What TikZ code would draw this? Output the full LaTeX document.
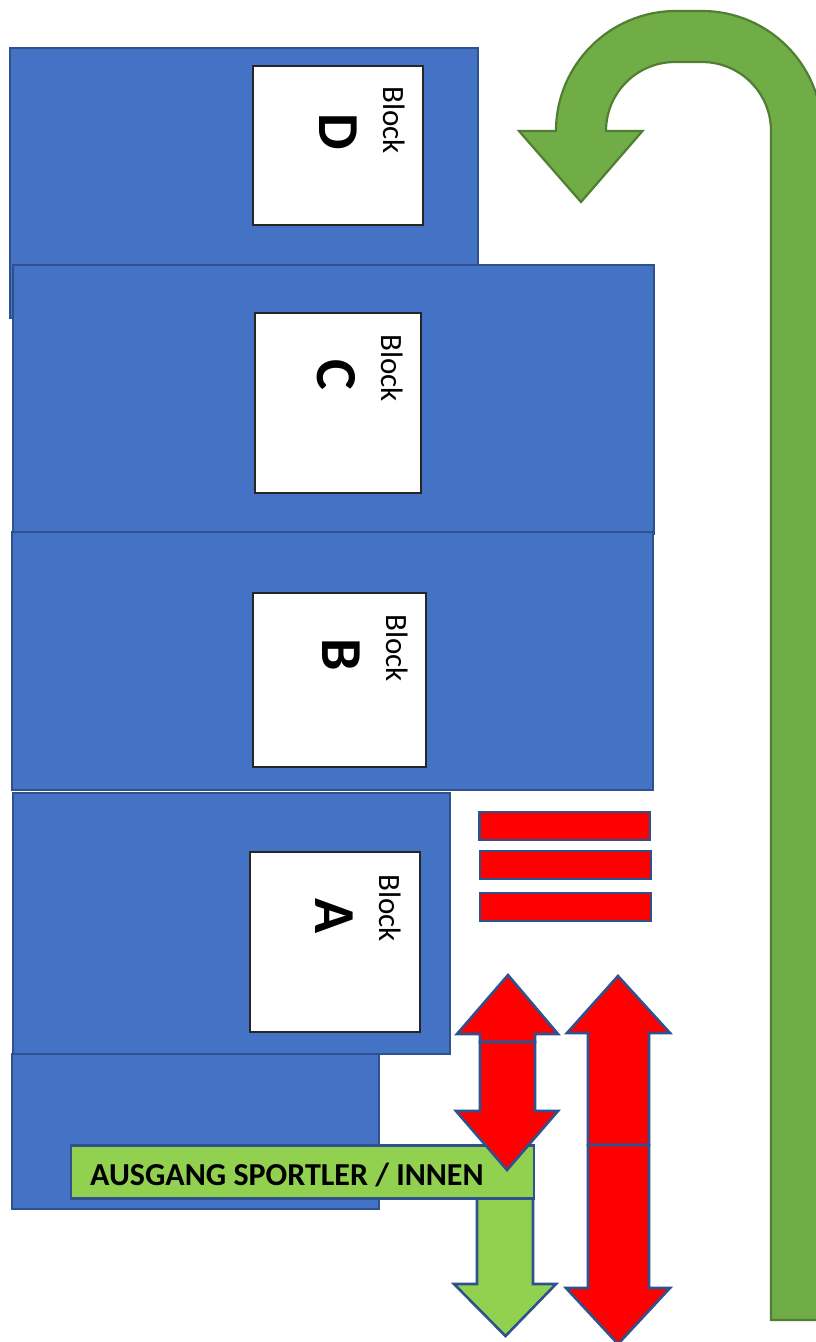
\documentclass[tikz,border=0pt]{standalone}
\usepackage{fontspec}
\setmainfont{Carlito}
\definecolor{bluefill}{HTML}{4472C4}
\definecolor{blueline}{HTML}{2F528F}
\definecolor{redfill}{HTML}{FF0000}
\definecolor{limefill}{HTML}{92D050}
\definecolor{greenfill}{HTML}{70AD47}
\definecolor{greenline}{HTML}{507E32}
\tikzset{
  blockbox/.style={draw=blueline,fill=bluefill,line width=2.6pt,line join=miter},
  whitebox/.style={draw=black!85,fill=white,line width=1.2pt},
  redshape/.style={draw=blueline,fill=redfill,line width=2.6pt,line join=miter},
  limeshape/.style={draw=blueline,fill=limefill,line width=2.6pt,line join=miter},
  turnshape/.style={draw=greenline,fill=greenfill,line width=2.2pt,line join=miter},
  blocklabel/.style={rotate=-90,inner sep=0pt,font=\fontsize{31}{31}\selectfont},
  letterlabel/.style={rotate=-90,inner sep=0pt,font=\fontsize{58}{58}\selectfont\bfseries},
}
\begin{document}
\begin{tikzpicture}[x=1pt,y=-1pt]
\useasboundingbox (0,0) rectangle (816,1342);
% U-turn arrow
\clip (0,0) rectangle (816,1342);
\draw[turnshape] (771,1320) -- (771,131) arc[start angle=0,end angle=-90,radius=69]
  -- (675,62) arc[start angle=-90,end angle=-180,radius=69]
  -- (606,131) -- (642.5,131) -- (581,202) -- (519,131) -- (556,131)
  arc[start angle=180,end angle=270,radius=120] -- (702,11)
  arc[start angle=-90,end angle=0,radius=120] -- (822,1320) -- cycle;
% blue blocks
\draw[blockbox] (10,48) rectangle (478,318);
\draw[blockbox] (13,265) rectangle (654,534);
\draw[blockbox] (12,532) rectangle (653,790);
\draw[blockbox] (12,1054) rectangle (379,1209);
\draw[blockbox] (13,793) rectangle (450,1054);
% white panels
\draw[whitebox] (253,66) rectangle (423,225);
\draw[whitebox] (255,313) rectangle (421,493);
\draw[whitebox] (253,593) rectangle (426,767);
\draw[whitebox] (250,852) rectangle (420,1032);
% labels
\node[blocklabel] (blockD) at (394,120) {Block};
\node[letterlabel] (letterD) at (338,132) {D};
\node[blocklabel] (blockC) at (392,368) {Block};
\node[letterlabel] (letterC) at (336,375) {C};
\node[blocklabel] (blockB) at (397,648) {Block};
\node[letterlabel] (letterB) at (341,655) {B};
\node[blocklabel] (blockA) at (390,908) {Block};
\node[letterlabel] (letterA) at (334,916) {A};
% red bars
\draw[redshape] (479.5,812) rectangle (650,840);
\draw[redshape] (480,851) rectangle (651,879);
\draw[redshape] (480,893) rectangle (651,921);
% right double arrow
\draw[redshape] (588,1145) -- (588,1033) -- (567,1033) -- (618,976) -- (670,1033) -- (649,1033) -- (649,1145) -- cycle;
\draw[redshape] (588,1145) -- (588,1288) -- (566,1288) -- (618,1344) -- (670,1288) -- (649,1288) -- (649,1145) -- cycle;
% left up arrow
\draw[redshape] (480,1042) -- (480,1034) -- (457,1034) -- (508,975) -- (558,1034) -- (535,1034) -- (535,1042) -- cycle;
% green exit arrow and label
\draw[limeshape] (477,1198) -- (477,1284) -- (454,1284) -- (505.5,1336) -- (556,1284) -- (533,1284) -- (533,1198) -- cycle;
\node[limeshape,minimum width=463pt,minimum height=53pt,anchor=north west,inner sep=0pt] (exitbox) at (69.5,1144) {};
\node[anchor=west,inner sep=0pt,font=\fontsize{32}{32}\selectfont\bfseries] (exitlabel) at (90,1175) {AUSGANG SPORTLER / INNEN};
% left down arrow
\draw[redshape] (480,1042) -- (480,1111) -- (456,1111) -- (507,1170) -- (558,1111) -- (535,1111) -- (535,1042) -- cycle;
\end{tikzpicture}
\end{document}
